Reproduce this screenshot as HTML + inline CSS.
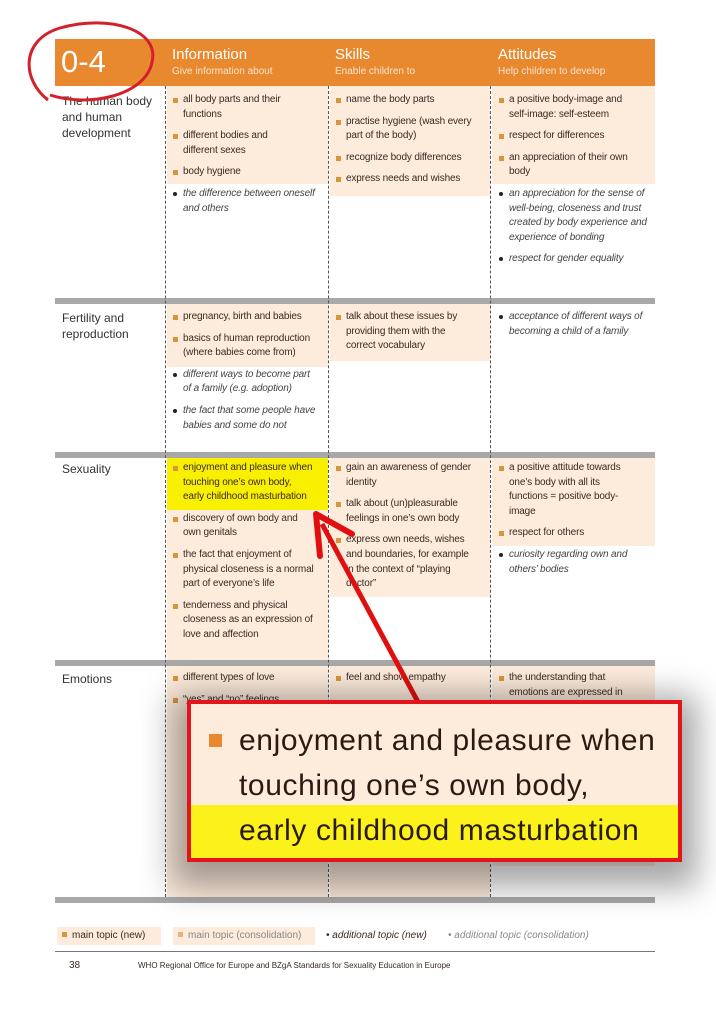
<!DOCTYPE html>
<html><head><meta charset="utf-8"><style>
body{margin:0;width:716px;height:1011px;background:#fff;position:relative;overflow:hidden;font-family:"Liberation Sans",sans-serif;color:#3a2a20}
.a{position:absolute}
.sh{position:absolute;background:#fdebdc}
.cell{position:absolute;font-size:10px;line-height:14.6px;white-space:nowrap;letter-spacing:-0.15px}
.it{position:relative;padding-left:12px;margin-bottom:7px}
.it:before{content:"";position:absolute;left:2px;top:5px;width:5px;height:5px;background:#d9953e}
.it.i{font-style:italic;color:#444}
.it.i:before{background:#222;border-radius:50%;width:4px;height:4px;top:5px}
.band{position:absolute;left:55px;width:600px;height:6px;background:#a8a8a8}
.dl{position:absolute;width:0;border-left:1.5px dashed #555}
.lbl{position:absolute;left:62px;font-size:12px;line-height:16px;color:#333}
.hd{position:absolute;color:#fff;font-size:15px;top:46px}
.hd small{display:block;font-size:10px;color:#fde3c8;margin-top:3px}
</style></head><body>
<div class="a" style="left:55px;top:39px;width:600px;height:47px;background:#e8892f"></div>
<div class="a" style="left:61px;top:44px;color:#fff;font-size:31px">0-4</div>
<div class="hd" style="left:172px">Information<small>Give information about</small></div>
<div class="hd" style="left:335px">Skills<small>Enable children to</small></div>
<div class="hd" style="left:498px">Attitudes<small>Help children to develop</small></div>

<div class="sh" style="left:167px;top:86px;width:161px;height:98px"></div>
<div class="sh" style="left:330px;top:86px;width:160px;height:110px"></div>
<div class="sh" style="left:492px;top:86px;width:163px;height:98px"></div>
<div class="sh" style="left:167px;top:304px;width:161px;height:63px"></div>
<div class="sh" style="left:330px;top:304px;width:160px;height:57px"></div>
<div class="sh" style="left:167px;top:458px;width:161px;height:202px"></div>
<div class="a" style="left:167px;top:458px;width:161px;height:52px;background:#f8f000"></div>
<div class="sh" style="left:330px;top:458px;width:160px;height:139px"></div>
<div class="sh" style="left:492px;top:458px;width:163px;height:88px"></div>
<div class="sh" style="left:167px;top:666px;width:161px;height:231px"></div>
<div class="sh" style="left:330px;top:666px;width:160px;height:231px"></div>
<div class="sh" style="left:492px;top:666px;width:163px;height:200px"></div>

<div class="band" style="top:298px"></div>
<div class="band" style="top:452px"></div>
<div class="band" style="top:660px"></div>
<div class="band" style="top:897px"></div>
<div class="dl" style="left:165px;top:86px;height:811px"></div>
<div class="dl" style="left:328px;top:86px;height:811px"></div>
<div class="dl" style="left:490px;top:86px;height:811px"></div>

<div class="lbl" style="top:93px">The human body<br>and human<br>development</div>
<div class="lbl" style="top:310px">Fertility and<br>reproduction</div>
<div class="lbl" style="top:461px">Sexuality</div>
<div class="lbl" style="top:671px">Emotions</div>

<div class="cell" style="left:171px;top:93px">
<div class="it">all body parts and their<br>functions</div>
<div class="it">different bodies and<br>different sexes</div>
<div class="it">body hygiene</div>
<div class="it i">the difference between oneself<br>and others</div></div>
<div class="cell" style="left:334px;top:93px">
<div class="it">name the body parts</div>
<div class="it">practise hygiene (wash every<br>part of the body)</div>
<div class="it">recognize body differences</div>
<div class="it">express needs and wishes</div></div>
<div class="cell" style="left:497px;top:93px">
<div class="it">a positive body-image and<br>self-image: self-esteem</div>
<div class="it">respect for differences</div>
<div class="it">an appreciation of their own<br>body</div>
<div class="it i">an appreciation for the sense of<br>well-being, closeness and trust<br>created by body experience and<br>experience of bonding</div>
<div class="it i">respect for gender equality</div></div>

<div class="cell" style="left:171px;top:310px">
<div class="it">pregnancy, birth and babies</div>
<div class="it">basics of human reproduction<br>(where babies come from)</div>
<div class="it i">different ways to become part<br>of a family (e.g. adoption)</div>
<div class="it i">the fact that some people have<br>babies and some do not</div></div>
<div class="cell" style="left:334px;top:310px">
<div class="it">talk about these issues by<br>providing them with the<br>correct vocabulary</div></div>
<div class="cell" style="left:497px;top:310px">
<div class="it i">acceptance of different ways of<br>becoming a child of a family</div></div>

<div class="cell" style="left:171px;top:461px">
<div class="it">enjoyment and pleasure when<br>touching one’s own body,<br>early childhood masturbation</div>
<div class="it">discovery of own body and<br>own genitals</div>
<div class="it">the fact that enjoyment of<br>physical closeness is a normal<br>part of everyone’s life</div>
<div class="it">tenderness and physical<br>closeness as an expression of<br>love and affection</div></div>
<div class="cell" style="left:334px;top:461px">
<div class="it">gain an awareness of gender<br>identity</div>
<div class="it">talk about (un)pleasurable<br>feelings in one’s own body</div>
<div class="it">express own needs, wishes<br>and boundaries, for example<br>in the context of “playing<br>doctor”</div></div>
<div class="cell" style="left:497px;top:461px">
<div class="it">a positive attitude towards<br>one’s body with all its<br>functions = positive body-<br>image</div>
<div class="it">respect for others</div>
<div class="it i">curiosity regarding own and<br>others’ bodies</div></div>

<div class="cell" style="left:171px;top:671px">
<div class="it">different types of love</div>
<div class="it">“yes” and “no” feelings</div></div>
<div class="cell" style="left:334px;top:671px">
<div class="it">feel and show empathy</div></div>
<div class="cell" style="left:497px;top:671px">
<div class="it">the understanding that<br>emotions are expressed in</div></div>

<div class="a" style="left:57px;top:927px;width:104px;height:18px;background:#fdebdc"></div>
<div class="a" style="left:173px;top:927px;width:142px;height:18px;background:#fdebdc"></div>
<div class="a" style="top:930px;left:62px;font-size:10px;white-space:nowrap"><span style="display:inline-block;width:5px;height:5px;background:#d9953e;margin-right:5px;vertical-align:1px"></span>main topic (new)</div>
<div class="a" style="top:930px;left:178px;font-size:10px;color:#888;white-space:nowrap"><span style="display:inline-block;width:5px;height:5px;background:#e8b47e;margin-right:5px;vertical-align:1px"></span>main topic (consolidation)</div>
<div class="a" style="top:930px;left:326px;font-size:10px;font-style:italic;white-space:nowrap">• additional topic (new)</div>
<div class="a" style="top:930px;left:448px;font-size:10px;font-style:italic;color:#888;white-space:nowrap">• additional topic (consolidation)</div>
<div class="a" style="left:55px;top:951px;width:600px;height:1px;background:#777"></div>
<div class="a" style="left:69px;top:960px;font-size:10px">38</div>
<div class="a" style="left:138px;top:961px;font-size:8px;white-space:nowrap">WHO Regional Office for Europe and BZgA Standards for Sexuality Education in Europe</div>

<svg class="a" style="left:0;top:0" width="716" height="1011">
<path d="M48 100 C22 80,20 40,60 28 C110 14,160 30,152 62 C146 95,90 108,50 95" fill="none" stroke="#d4202a" stroke-width="3"/>
<line x1="418" y1="702" x2="322" y2="524" stroke="#e01010" stroke-width="5"/>
<path d="M316 514 L352 534 M316 514 L320 556" stroke="#e01010" stroke-width="6" fill="none" stroke-linecap="round"/>
</svg>

<div class="a" style="left:187px;top:700px;width:487px;height:154px;border:4px solid #e3141b;background:#fdebdc;box-shadow:0 10px 30px 15px rgba(0,0,0,0.35);overflow:hidden">
<div class="a" style="left:0;top:101px;width:487px;height:56px;background:#fbf21c"></div>
<div class="a" style="left:18px;top:30px;width:13px;height:13px;background:#e8892f"></div>
<div class="a" style="left:48px;top:14px;font-size:30px;letter-spacing:0.6px;line-height:45px;color:#2a1a12;white-space:nowrap">enjoyment and pleasure when<br>touching one’s own body,<br>early childhood masturbation</div>
</div>
</body></html>
